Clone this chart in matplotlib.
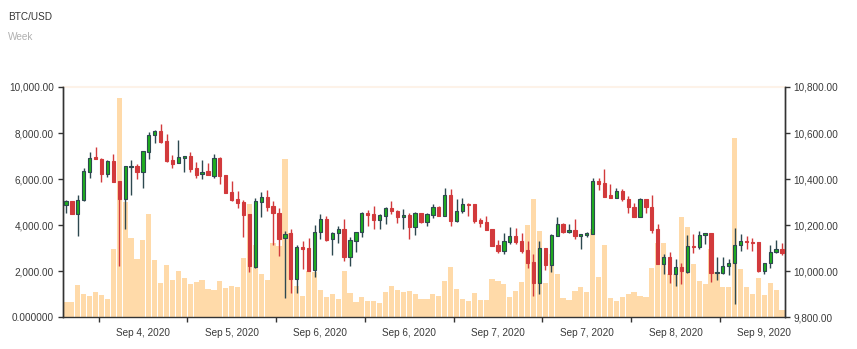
import matplotlib
matplotlib.use('Agg')
import matplotlib.pyplot as plt
import numpy as np

opens = [10286, 10304, 10247, 10309, 10432, 10495, 10487, 10421, 10479, 10392,
         10312, 10453, 10457, 10430, 10519, 10592, 10607, 10565, 10483, 10469,
         10492, 10500, 10447, 10421, 10434, 10415, 10490, 10418, 10343, 10314,
         10301, 10247, 10019, 10302, 10324, 10282, 10254, 10143, 10165, 9968,
         10105, 10101, 10005, 10169, 10227, 10139, 10166, 10182, 10061, 10133,
         10169, 10252, 10249, 10224, 10241, 10275, 10263, 10237, 10244, 10192,
         10253, 10215, 10244, 10279, 10241, 10331, 10220, 10262, 10292, 10291,
         10223, 10214, 10182, 10114, 10088, 10129, 10155, 10131, 10091, 10040,
         9951, 10100, 10027, 10155, 10205, 10171, 10178, 10155, 10156, 10160,
         10393, 10383, 10331, 10318, 10349, 10314, 10279, 10234, 10314, 10278,
         10184, 10033, 10062, 9988, 10019, 9998, 10111, 10105, 10156, 10165,
         9992, 9994, 10023, 10034, 10114, 10130, 10128, 10128, 10001, 10034,
         10082, 10097]
highs = [10309, 10306, 10331, 10447, 10516, 10540, 10490, 10482, 10509, 10392,
         10456, 10483, 10464, 10522, 10603, 10613, 10639, 10596, 10503, 10571,
         10500, 10519, 10474, 10482, 10469, 10511, 10495, 10418, 10390, 10349,
         10309, 10247, 10318, 10343, 10353, 10304, 10273, 10175, 10185, 10114,
         10130, 10144, 10201, 10249, 10240, 10172, 10198, 10227, 10150, 10172,
         10257, 10266, 10283, 10247, 10279, 10305, 10266, 10269, 10252, 10259,
         10253, 10252, 10292, 10283, 10361, 10356, 10314, 10317, 10296, 10291,
         10230, 10240, 10182, 10134, 10168, 10192, 10186, 10166, 10131, 10074,
         10130, 10100, 10160, 10236, 10210, 10205, 10226, 10160, 10171, 10403,
         10406, 10444, 10377, 10360, 10359, 10325, 10295, 10317, 10314, 10331,
         10205, 10075, 10082, 10052, 10037, 10157, 10160, 10175, 10165, 10165,
         10063, 10063, 10053, 10189, 10160, 10153, 10144, 10128, 10036, 10114,
         10136, 10121]
lows = [10252, 10247, 10155, 10306, 10406, 10486, 10389, 10411, 10389, 10023,
        10182, 10331, 10399, 10361, 10486, 10555, 10558, 10476, 10447, 10469,
        10430, 10431, 10406, 10399, 10416, 10406, 10380, 10338, 10306, 10276,
        10150, 9998, 10016, 10237, 10263, 10114, 10068, 9882, 9904, 9904,
        10008, 10003, 9974, 10139, 10130, 10072, 10124, 10045, 10023, 10085,
        10147, 10195, 10185, 10185, 10204, 10247, 10208, 10185, 10141, 10157,
        10208, 10198, 10233, 10240, 10241, 10198, 10215, 10254, 10240, 10208,
        10192, 10178, 10108, 10081, 10074, 10120, 10120, 10078, 10016, 9894,
        9901, 10004, 9998, 10155, 10166, 10168, 10141, 10097, 10150, 10160,
        10353, 10321, 10317, 10317, 10306, 10252, 10234, 10234, 10252, 10168,
        10033, 9990, 9951, 9937, 9945, 9994, 10078, 10098, 10117, 9953,
        9964, 9987, 9985, 9858, 10089, 10095, 10089, 9998, 9990, 10016,
        10081, 10071]
closes = [10304, 10247, 10309, 10435, 10493, 10486, 10421, 10479, 10389, 10312,
          10456, 10457, 10430, 10522, 10592, 10607, 10563, 10480, 10467, 10495,
          10500, 10442, 10418, 10432, 10416, 10490, 10415, 10338, 10309, 10296,
          10244, 10024, 10304, 10322, 10280, 10252, 10141, 10163, 9968, 10105,
          10097, 10003, 10169, 10226, 10134, 10168, 10182, 10061, 10134, 10171,
          10252, 10246, 10223, 10243, 10276, 10260, 10237, 10244, 10192, 10252,
          10215, 10247, 10279, 10241, 10331, 10220, 10262, 10291, 10286, 10217,
          10211, 10178, 10111, 10087, 10131, 10155, 10126, 10088, 10037, 9951,
          10100, 10027, 10156, 10205, 10171, 10178, 10153, 10160, 10166, 10393,
          10379, 10324, 10317, 10349, 10312, 10278, 10234, 10314, 10278, 10179,
          10033, 10062, 9988, 10019, 10001, 10110, 10105, 10157, 10165, 9994,
          9998, 10023, 10036, 10116, 10130, 10126, 10124, 10001, 10036, 10084,
          10095, 10081]
volumes = [666, 666, 1389, 1013, 940, 1100, 970, 796, 2981, 9507,
           5007, 3430, 2547, 3372, 4471, 2474, 1476, 2286, 1606, 1997,
           1707, 1461, 1534, 1606, 1230, 1186, 1563, 1273, 1360, 1317,
           2576, 4905, 3140, 1881, 1635, 3212, 3082, 6888, 3661, 1375,
           926, 1997, 1968, 1186, 897, 998, 810, 2011, 1042, 680,
           868, 723, 695, 622, 1100, 1360, 1186, 1100, 1158, 1013,
           796, 796, 998, 926, 1563, 2170, 1215, 796, 723, 1071,
           752, 752, 1650, 1563, 1461, 897, 1143, 1519, 3994, 5137,
           3733, 1480, 2750, 1867, 830, 752, 1129, 1310, 1120, 3840,
           1730, 3130, 830, 723, 883, 998, 1100, 926, 897, 2142,
           3241, 3227, 1881, 1867, 4355, 3936, 2301, 1577, 1461, 2975,
           1950, 1320, 1300, 7770, 2098, 1302, 1000, 1715, 984, 1470,
           1180, 318]
tick_labels = ['Sep 4, 2020', 'Sep 5, 2020', 'Sep 6, 2020', 'Sep 6, 2020',
               'Sep 7, 2020', 'Sep 7, 2020', 'Sep 8, 2020', 'Sep 9, 2020']
vol_ticks = [0, 2000, 4000, 6000, 8000, 10000]
price_ticks = [9800, 10000, 10200, 10400, 10600, 10800]

plt.rcParams['font.family'] = ['Liberation Sans', 'DejaVu Sans']

W, H = 857, 349
fig = plt.figure(figsize=(W / 100, H / 100), dpi=100)
ax = fig.add_axes([63 / W, 31.7 / H, 722 / W, 230.3 / H])

n = len(volumes)
x = np.arange(n)
ax.bar(x, volumes, width=0.88, color='#ffdaa9', edgecolor='none', zorder=2)
ax.set_xlim(-0.5, n - 0.5)
ax.set_ylim(0, 10000)
ax.axhline(10000, color='#fdf2e8', lw=1.5, clip_on=False, zorder=1)

ax2 = ax.twinx()
ax2.set_ylim(9800, 10800)

o = np.array(opens); c = np.array(closes); hi = np.array(highs); lo = np.array(lows)
up = c >= o
green_fill = '#1fae1f'
dark = '#2d4850'
red = '#d23a3c'
wick_colors = [dark if u else red for u in up]
ax2.vlines(x, lo, hi, colors=wick_colors, linewidth=1.0, zorder=2)
bottoms = np.minimum(o, c)
heights = np.maximum(np.abs(c - o), 1.0)
ax2.bar(x[up], heights[up], bottom=bottoms[up], width=0.55, color=green_fill,
        edgecolor=dark, linewidth=0.8, zorder=3)
ax2.bar(x[~up], heights[~up], bottom=bottoms[~up], width=0.55, color=red,
        edgecolor=red, linewidth=0.8, zorder=3)

text_color = '#3a3a3a'
fs = 7.2
ax.set_yticks(vol_ticks)
ax.set_yticklabels(['0.000000' if v == 0 else f'{v:,.2f}' for v in vol_ticks])
ax2.set_yticks(price_ticks)
ax2.set_yticklabels([f'{v:,.2f}' for v in price_ticks])

major_x = [5.5 + 15 * k for k in range(len(tick_labels))]
minor_x = [m + 7.5 for m in major_x]
ax.set_xticks(major_x)
ax.set_xticklabels([''] * len(major_x))
ax.set_xticks(minor_x, minor=True)
ax.set_xticklabels(tick_labels, minor=True)
ax.tick_params(axis='x', which='major', length=3.5, width=1, color='#333333')
ax.tick_params(axis='x', which='minor', length=0, pad=7.5, labelsize=fs, labelcolor=text_color)
ax.tick_params(axis='y', length=3.5, width=1, color='#333333', pad=3, labelsize=fs, labelcolor=text_color)
ax2.tick_params(axis='y', length=3.5, width=1, color='#333333', pad=2.5, labelsize=fs, labelcolor=text_color)

for a in (ax, ax2):
    a.spines['top'].set_visible(False)
    for s in ('left', 'right', 'bottom'):
        a.spines[s].set_color('#333333')
        a.spines[s].set_linewidth(1.0)
ax2.spines['bottom'].set_visible(False)
ax.patch.set_visible(False)

fig.text(8 / W, 1 - 17 / H, 'BTC/USD', fontsize=fs, color='#333333', va='center', ha='left')
fig.text(8 / W, 1 - 37 / H, 'Week', fontsize=fs, color='#b0b0b0', va='center', ha='left')

fig.savefig('out.png', dpi=100)
